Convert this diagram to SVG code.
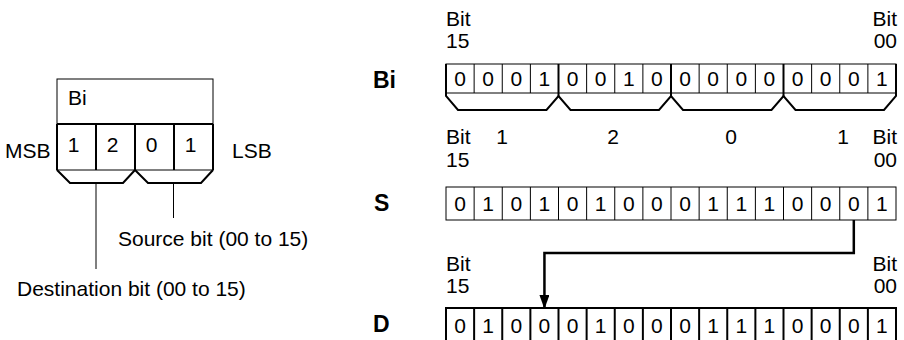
<svg xmlns="http://www.w3.org/2000/svg" width="904" height="340" viewBox="0 0 904 340">
<style>
.t{font-family:"Liberation Sans",Arial,sans-serif;font-size:21px;fill:#000}
.e{text-anchor:end}
.m{text-anchor:middle}
.b{font-family:"Liberation Sans",Arial,sans-serif;font-size:23px;font-weight:bold;fill:#000}
.thin{fill:none;stroke:#000;stroke-width:1}
.thick{fill:none;stroke:#000;stroke-width:2}
.brace{fill:none;stroke:#000;stroke-width:2;stroke-linejoin:miter}
.wire{fill:none;stroke:#000;stroke-width:1}
.arrow{fill:none;stroke:#000;stroke-width:2.5}
</style>
<defs>
<marker id="ah" markerWidth="14" markerHeight="10" refX="14" refY="5" orient="auto" markerUnits="userSpaceOnUse" viewBox="0 0 14 10">
<polygon points="0,0 14,5 0,10" fill="#000"/>
</marker>
</defs>

<g id="operand-box">
<rect class="thin" x="57" y="79" width="156" height="91"/>
<line class="thick" x1="57" y1="124" x2="213" y2="124"/>
<line class="thick" x1="96" y1="124" x2="96" y2="170"/>
<line class="thick" x1="135" y1="124" x2="135" y2="170"/>
<line class="thick" x1="174" y1="124" x2="174" y2="170"/>
<line class="thick" x1="57" y1="124" x2="57" y2="170"/>
<line class="thick" x1="213" y1="124" x2="213" y2="170"/>
<polyline class="brace" points="57,170 70,183 123,183 135,170 148,183 201,183 213,170"/>
<text class="t" x="68" y="105">Bi</text>
<text class="t m" x="73.5" y="152">1</text>
<text class="t m" x="112.5" y="152">2</text>
<text class="t m" x="151.5" y="152">0</text>
<text class="t m" x="190.5" y="152">1</text>
<text class="t" x="5" y="158">MSB</text>
<text class="t" x="232" y="158">LSB</text>
</g>

<g id="annotations">
<line class="wire" x1="96" y1="183" x2="96" y2="269"/>
<line class="wire" x1="173.5" y1="183" x2="173.5" y2="218"/>
<text class="t" x="118" y="246">Source bit (00 to 15)</text>
<text class="t" x="17" y="296">Destination bit (00 to 15)</text>
</g>

<g id="headers">
<text class="t" x="446" y="26">Bit</text>
<text class="t" x="446" y="48">15</text>
<text class="t e" x="897" y="26">Bit</text>
<text class="t e" x="897" y="48">00</text>

<text class="t" x="446" y="144">Bit</text>
<text class="t" x="446" y="167">15</text>
<text class="t m" x="502" y="144">1</text>
<text class="t m" x="613" y="144">2</text>
<text class="t m" x="731" y="144">0</text>
<text class="t m" x="843" y="144">1</text>
<text class="t e" x="897" y="144">Bit</text>
<text class="t e" x="897" y="167">00</text>

<text class="t" x="446" y="271">Bit</text>
<text class="t" x="446" y="293">15</text>
<text class="t e" x="897" y="271">Bit</text>
<text class="t e" x="897" y="293">00</text>
</g>

<g id="row-Bi">
<text class="b" x="373" y="88">Bi</text>
<rect class="thin" x="446" y="64" width="450" height="29"/>
<g class="thin">
<line x1="474.125" y1="64" x2="474.125" y2="93"/>
<line x1="502.25" y1="64" x2="502.25" y2="93"/>
<line x1="530.375" y1="64" x2="530.375" y2="93"/>
<line x1="586.625" y1="64" x2="586.625" y2="93"/>
<line x1="614.75" y1="64" x2="614.75" y2="93"/>
<line x1="642.875" y1="64" x2="642.875" y2="93"/>
<line x1="699.125" y1="64" x2="699.125" y2="93"/>
<line x1="727.25" y1="64" x2="727.25" y2="93"/>
<line x1="755.375" y1="64" x2="755.375" y2="93"/>
<line x1="811.625" y1="64" x2="811.625" y2="93"/>
<line x1="839.75" y1="64" x2="839.75" y2="93"/>
<line x1="867.875" y1="64" x2="867.875" y2="93"/>
</g>
<g class="thick">
<line x1="558.5" y1="64" x2="558.5" y2="96"/>
<line x1="671" y1="64" x2="671" y2="96"/>
<line x1="783.5" y1="64" x2="783.5" y2="96"/>
</g>
<polyline class="brace" points="446,64 446,96 458,110 546.5,110 558.5,96 570.5,110 659,110 671,96 683,110 771.5,110 783.5,96 795.5,110 884,110 896,96 896,64"/>
<g class="t m">
<text x="460.06" y="86">0</text><text x="488.19" y="86">0</text><text x="516.31" y="86">0</text><text x="544.44" y="86">1</text>
<text x="572.56" y="86">0</text><text x="600.69" y="86">0</text><text x="628.81" y="86">1</text><text x="656.94" y="86">0</text>
<text x="685.06" y="86">0</text><text x="713.19" y="86">0</text><text x="741.31" y="86">0</text><text x="769.44" y="86">0</text>
<text x="797.56" y="86">0</text><text x="825.69" y="86">0</text><text x="853.81" y="86">0</text><text x="881.94" y="86">1</text>
</g>
</g>

<g id="row-S">
<text class="b" x="374" y="211">S</text>
<rect class="thin" x="446" y="187" width="450" height="33"/>
<g class="thin">
<line x1="474.125" y1="187" x2="474.125" y2="220"/>
<line x1="502.25" y1="187" x2="502.25" y2="220"/>
<line x1="530.375" y1="187" x2="530.375" y2="220"/>
<line x1="558.5" y1="187" x2="558.5" y2="220"/>
<line x1="586.625" y1="187" x2="586.625" y2="220"/>
<line x1="614.75" y1="187" x2="614.75" y2="220"/>
<line x1="642.875" y1="187" x2="642.875" y2="220"/>
<line x1="671" y1="187" x2="671" y2="220"/>
<line x1="699.125" y1="187" x2="699.125" y2="220"/>
<line x1="727.25" y1="187" x2="727.25" y2="220"/>
<line x1="755.375" y1="187" x2="755.375" y2="220"/>
<line x1="783.5" y1="187" x2="783.5" y2="220"/>
<line x1="811.625" y1="187" x2="811.625" y2="220"/>
<line x1="839.75" y1="187" x2="839.75" y2="220"/>
<line x1="867.875" y1="187" x2="867.875" y2="220"/>
</g>
<g class="t m">
<text x="460.06" y="211">0</text><text x="488.19" y="211">1</text><text x="516.31" y="211">0</text><text x="544.44" y="211">1</text>
<text x="572.56" y="211">0</text><text x="600.69" y="211">1</text><text x="628.81" y="211">0</text><text x="656.94" y="211">0</text>
<text x="685.06" y="211">0</text><text x="713.19" y="211">1</text><text x="741.31" y="211">1</text><text x="769.44" y="211">1</text>
<text x="797.56" y="211">0</text><text x="825.69" y="211">0</text><text x="853.81" y="211">0</text><text x="881.94" y="211">1</text>
</g>
</g>

<g id="row-D">
<text class="b" x="373" y="332">D</text>
<rect class="thick" x="446" y="308" width="450" height="40"/>
<g class="thick">
<line x1="474.125" y1="308" x2="474.125" y2="340"/>
<line x1="502.25" y1="308" x2="502.25" y2="340"/>
<line x1="530.375" y1="308" x2="530.375" y2="340"/>
<line x1="558.5" y1="308" x2="558.5" y2="340"/>
<line x1="586.625" y1="308" x2="586.625" y2="340"/>
<line x1="614.75" y1="308" x2="614.75" y2="340"/>
<line x1="642.875" y1="308" x2="642.875" y2="340"/>
<line x1="671" y1="308" x2="671" y2="340"/>
<line x1="699.125" y1="308" x2="699.125" y2="340"/>
<line x1="727.25" y1="308" x2="727.25" y2="340"/>
<line x1="755.375" y1="308" x2="755.375" y2="340"/>
<line x1="783.5" y1="308" x2="783.5" y2="340"/>
<line x1="811.625" y1="308" x2="811.625" y2="340"/>
<line x1="839.75" y1="308" x2="839.75" y2="340"/>
<line x1="867.875" y1="308" x2="867.875" y2="340"/>
</g>
<g class="t m">
<text x="460.06" y="333">0</text><text x="488.19" y="333">1</text><text x="516.31" y="333">0</text><text x="544.44" y="333">0</text>
<text x="572.56" y="333">0</text><text x="600.69" y="333">1</text><text x="628.81" y="333">0</text><text x="656.94" y="333">0</text>
<text x="685.06" y="333">0</text><text x="713.19" y="333">1</text><text x="741.31" y="333">1</text><text x="769.44" y="333">1</text>
<text x="797.56" y="333">0</text><text x="825.69" y="333">0</text><text x="853.81" y="333">0</text><text x="881.94" y="333">1</text>
</g>
</g>

<g id="connectors">
<polyline class="arrow" points="853.81,220 853.81,253 544.44,253 544.44,309" marker-end="url(#ah)"/>
</g>
</svg>
